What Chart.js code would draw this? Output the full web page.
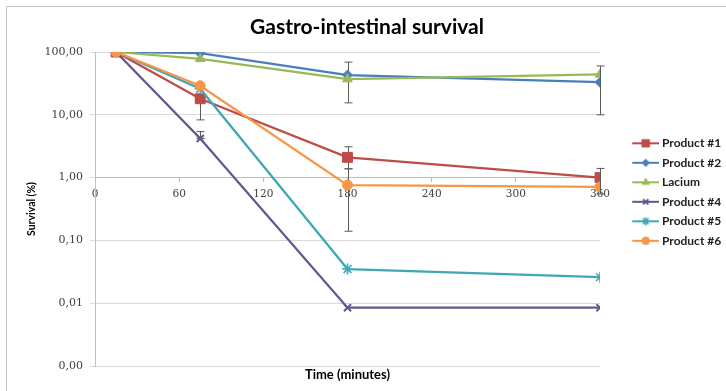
<!DOCTYPE html>
<html><head><meta charset="utf-8">
<script src="https://cdn.jsdelivr.net/npm/chart.js@4"></script>
<style>html,body{margin:0;padding:0;background:#fff;}</style>
</head><body>
<canvas id="c" width="726" height="391"></canvas>
<script>
// ---- data ----
const times = [15, 75, 180, 360];
const seriesNames = ['Product #1', 'Product #2', 'Lacium', 'Product #4', 'Product #5', 'Product #6'];
const product1 = [100, 18, 2.1, 1.0];
const product2 = [100, 96, 43, 33];
const lacium   = [100, 78, 37, 44];
const product4 = [100, 4.2, 0.0085, 0.0085];
const product5 = [100, 26, 0.035, 0.026];
const product6 = [100, 29, 0.76, 0.71];
const yTickValues = [0.001, 0.01, 0.1, 1, 10, 100];
const xTickStep = 60;
// error bars: [time, low, high]
const errorBars = [
  [75, 8.3, 28], [75, 4.2, 5.4],
  [180, 15.5, 69], [180, 1.38, 3.1], [180, 0.14, 1.38],
  [360, 10, 60], [360, 0.55, 1.4]
];

const seriesValues = [product1, product2, lacium, product4, product5, product6];
const colors = ['#BE4B48', '#4A7EBB', '#98B954', '#64558F', '#3FA8B4', '#F79646'];
const styles = ['rect', 'rectRot', 'triangle', 'crossRot', 'star', 'circle'];
const radii = [7, 5, 5.5, 5, 5.5, 5];
const bws = [1, 1, 1, 2, 1.6, 1];

const ICON_W = 55, LINE_X0 = 28;
function makeIcon(color, style, r, bw) {
  const c = document.createElement('canvas');
  c.width = ICON_W; c.height = 14;
  const g = c.getContext('2d');
  g.strokeStyle = color; g.lineWidth = 2;
  g.beginPath(); g.moveTo(LINE_X0, 7); g.lineTo(ICON_W, 7); g.stroke();
  g.fillStyle = color; g.lineWidth = bw;
  const cx = (LINE_X0 + ICON_W) / 2;
  if (Chart.helpers && Chart.helpers.drawPoint) {
    Chart.helpers.drawPoint(g, {pointStyle: style, radius: r * 0.75, borderWidth: bw, rotation: 0}, cx, 7);
  } else {
    g.fillRect(cx - 3, 4, 6, 6);
  }
  return c;
}

const datasets = seriesNames.map((name, i) => ({
  label: name,
  data: times.map((t, j) => ({x: t, y: seriesValues[i][j]})),
  borderColor: colors[i],
  backgroundColor: colors[i],
  pointBackgroundColor: colors[i],
  pointBorderColor: colors[i],
  borderWidth: 2.25,
  pointStyle: styles[i],
  pointRadius: radii[i],
  pointBorderWidth: bws[i],
  tension: 0,
  fill: false,
  order: seriesNames.length - i
}));

const framePlugin = {
  id: 'frame',
  beforeDraw(chart) {
    const ctx = chart.ctx;
    ctx.save();
    ctx.fillStyle = '#fff';
    ctx.fillRect(0, 0, chart.width, chart.height);
    ctx.strokeStyle = '#c4c4c4';
    ctx.lineWidth = 1;
    ctx.beginPath();
    ctx.moveTo(6.5, chart.height); ctx.lineTo(6.5, 6.5); ctx.lineTo(chart.width, 6.5);
    ctx.stroke();
    ctx.restore();
  }
};

const errorBarPlugin = {
  id: 'errbars',
  beforeDatasetsDraw(chart) {
    const ctx = chart.ctx, xs = chart.scales.x, ys = chart.scales.y;
    ctx.save();
    ctx.strokeStyle = '#5a5a5a';
    ctx.lineWidth = 1;
    errorBars.forEach(([t, lo, hi]) => {
      const x = Math.round(xs.getPixelForValue(t)) + 0.5;
      const y1 = ys.getPixelForValue(hi), y2 = ys.getPixelForValue(lo);
      ctx.beginPath();
      ctx.moveTo(x, y1); ctx.lineTo(x, y2);
      ctx.moveTo(x - 4, y1); ctx.lineTo(x + 4, y1);
      ctx.moveTo(x - 4, y2); ctx.lineTo(x + 4, y2);
      ctx.stroke();
    });
    ctx.restore();
  }
};

new Chart(document.getElementById('c'), {
  type: 'line',
  data: {datasets},
  plugins: [framePlugin, errorBarPlugin],
  options: {
    responsive: false,
    animation: false,
    devicePixelRatio: 1,
    layout: {padding: {left: 8, right: 0, top: 0, bottom: 0}},
    scales: {
      x: {
        type: 'linear',
        position: {y: 1},
        min: 0, max: 360,
        ticks: {stepSize: xTickStep, padding: 6, color: '#404040', font: {family: 'DejaVu Serif', size: 10.5}},
        grid: {drawOnChartArea: false, tickLength: 4, color: '#bfbfbf'},
        border: {color: '#bfbfbf'}
      },
      y: {
        type: 'logarithmic',
        min: 0.001, max: 100,
        afterBuildTicks(scale) { scale.ticks = yTickValues.map(v => ({value: v})); },
        afterFit(scale) { scale.width = 87; },
        ticks: {
          padding: 7, color: '#404040', font: {family: 'DejaVu Serif', size: 11},
          callback: v => Number(v).toFixed(2).replace('.', ',')
        },
        grid: {color: '#d9d9d9', tickLength: 5},
        border: {color: '#bfbfbf'},
        title: {display: true, text: 'Survival (%)', color: '#000', font: {family: 'Lato', weight: 'bold', size: 10.5}, padding: {top: 17.7, bottom: 0}}
      }
    },
    plugins: {
      title: {display: true, text: 'Gastro-intestinal survival', color: '#000', font: {family: 'Lato', weight: 'bold', size: 21}, padding: {top: 14.4, bottom: 12.4}},
      subtitle: {display: true, position: 'bottom', fullSize: false, text: 'Time (minutes)', color: '#000', font: {family: 'Lato', weight: 'bold', size: 13}, padding: {top: 1.2, bottom: 8.2}},
      legend: {
        position: 'right',
        align: 'start',
        maxWidth: 126,
        title: {display: true, text: '', font: {size: 10}, padding: {top: 117.8, bottom: 0}},
        labels: {
          usePointStyle: true,
          pointStyleWidth: 48.5,
          padding: 7.5,
          color: '#222',
          font: {family: 'Lato', weight: 'bold', size: 12},
          generateLabels(chart) {
            return chart.data.datasets.map((ds, i) => ({
              text: ds.label,
              pointStyle: makeIcon(ds.borderColor, ds.pointStyle, ds.pointRadius, ds.pointBorderWidth),
              fillStyle: ds.borderColor,
              strokeStyle: ds.borderColor,
              lineWidth: 0,
              hidden: false,
              datasetIndex: i,
              fontColor: '#222'
            }));
          }
        }
      },
      tooltip: {enabled: false}
    }
  }
});
</script>
</body></html>
